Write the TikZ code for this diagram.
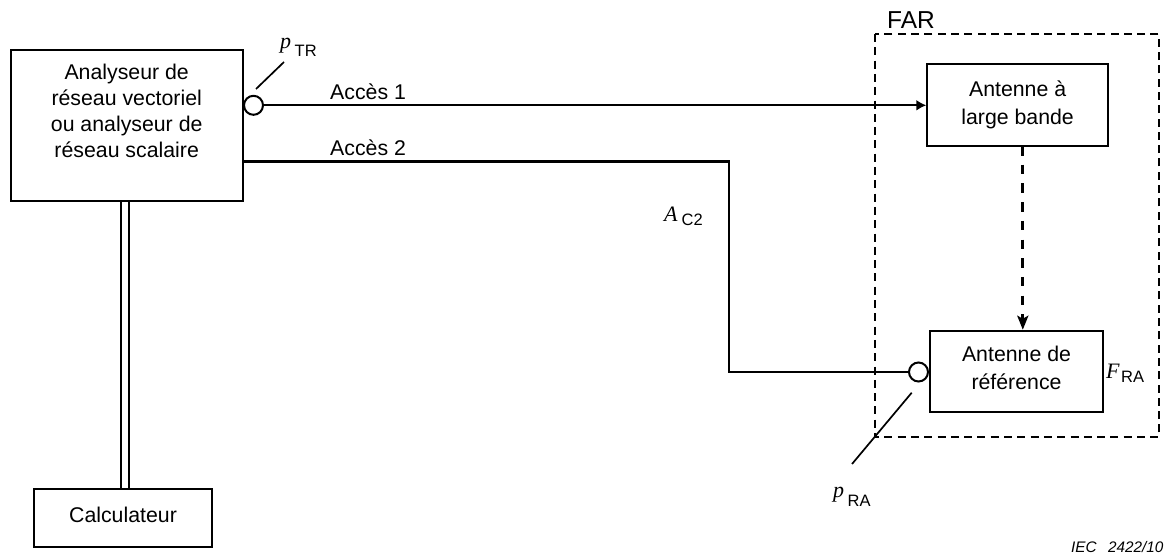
\documentclass[tikz,border=0pt]{standalone}
\usepackage{fontspec}
\setmainfont{Liberation Sans}
\newfontfamily\timesit{Liberation Serif}
\usetikzlibrary{arrows.meta}
% symbol, subscript, gap, drop
\newcommand{\symsub}[4]{{\timesit\itshape\fontsize{22}{22}\selectfont #1}\hspace{#3}{\fontsize{16.5}{16.5}\selectfont\raisebox{-#4}{#2}}}
\tikzset{
 x=1pt,y=-1pt,
 bx/.style={draw,line width=2pt,inner sep=0pt,align=center,font=\fontsize{21.3}{28}\selectfont},
 wire/.style={line width=2.2pt},
 leader/.style={line width=1.7pt},
 dbl/.style={line width=1.8pt},
 port/.style={draw,circle,line width=2pt,fill=white,minimum size=19pt,inner sep=0pt},
 lab/.style={inner sep=0pt,anchor=base west,font=\fontsize{21.3}{25}\selectfont},
 sy/.style={inner sep=0pt,anchor=base west},
 arr/.style={-{Latex[length=10pt,width=11pt]}},
 darr/.style={-{Stealth[length=14pt,width=11pt,inset=3pt]}},
}
\begin{document}
\begin{tikzpicture}
\useasboundingbox (0,0) rectangle (1164,554);
\fill[white] (0,0) rectangle (1164,554);
% boxes
\node[bx,minimum width=232pt,minimum height=150.7pt,font=\fontsize{21.3}{26}\selectfont] (ana) at (126.7,125.4)
 {Analyseur de\\réseau vectoriel\\ou analyseur de\\réseau scalaire\\\rule[-4pt]{0pt}{4pt}};
\node[bx,minimum width=178pt,minimum height=58pt] (calc) at (123,518) {Calculateur\rule[-6pt]{0pt}{6pt}};
\node[bx,minimum width=180.7pt,minimum height=82pt] (wb) at (1017.6,105) {Antenne à\\large bande\rule[-5.5pt]{0pt}{5.5pt}};
\node[bx,minimum width=173pt,minimum height=81.5pt] (ref) at (1016.5,371.5) {Antenne de\\référence\rule[-7pt]{0pt}{7pt}};
\coordinate (farA) at (875,34);
\coordinate (farB) at (1159,437);
\draw[line width=1.8pt,dash pattern=on 8pt off 5.3pt] (farA) rectangle (farB);
\node[lab,font=\fontsize{24.5}{28}\selectfont] (far) at (887,28) {FAR};
% ports
\node[port] (ptr) at (253.5,105.3) {};
\node[port] (pra) at (918.5,372) {};
% wires
\draw[wire,arr] (ptr.east) -- (wb.west |- ptr.east);
\coordinate (a2s) at (244,161.5);
\coordinate (a2c) at (729,161.5);
\draw[wire] (a2s) -- (a2c) |- (pra.west);
\coordinate (dtop) at (1022.8,146);
\draw[line width=2.9pt,dash pattern=on 9.5pt off 9.2pt,darr] (dtop) -- (ref.north -| dtop);
\coordinate (d1) at (120.8,201);
\coordinate (d2) at (128.8,201);
\draw[dbl] (d1) -- (calc.north -| d1);
\draw[dbl] (d2) -- (calc.north -| d2);
% leaders
\coordinate (t1) at (256,89); \coordinate (t2) at (284,62);
\draw[leader] (t1) -- (t2);
\coordinate (r1) at (911.7,392.7); \coordinate (r2) at (852,464);
\draw[leader] (r1) -- (r2);
% labels
\node[lab] (a1) at (330,99) {Accès 1};
\node[lab] (a2) at (330,155) {Accès 2};
\node[sy] (ptrl) at (280,48.5) {\symsub{p}{TR}{3.5pt}{8pt}};
\node[sy] (ac2) at (664,221) {\symsub{A}{C2}{4pt}{4pt}};
\node[sy] (fra) at (1106,378) {\symsub{F}{RA}{1.5pt}{4pt}};
\node[sy] (pral) at (833,497) {\symsub{p}{RA}{3.5pt}{9pt}};
\node[inner sep=0pt,anchor=base west,font=\fontsize{15.3}{18}\selectfont\itshape] (iec) at (1071,552) {IEC\hspace{11.5pt}2422/10};
\end{tikzpicture}
\end{document}
